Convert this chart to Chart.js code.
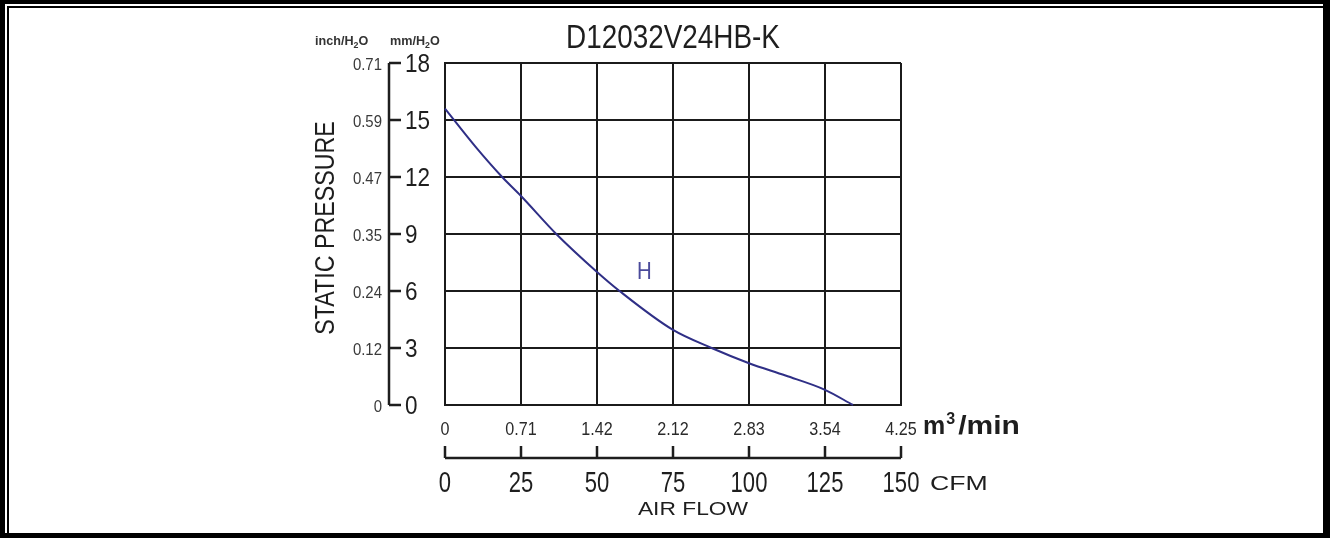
<!DOCTYPE html>
<html>
<head>
<meta charset="utf-8">
<script src="https://cdn.jsdelivr.net/npm/chart.js@4/dist/chart.umd.min.js"></script>
<style>
    html, body { margin: 0; padding: 0; background: #fff; }
    #page { position: relative; width: 1330px; height: 538px; overflow: hidden; background: #000; }
    .layer { position: absolute; }
    #gap { left: 5px; top: 4px; right: 7px; bottom: 5px; background: #fff; }
    #line { left: 7px; top: 6px; right: 7px; bottom: 5px; background: #000; }
    #inner { left: 9px; top: 8px; right: 7px; bottom: 5px; background: #fff; }
    #pqChart { position: absolute; left: 0; top: 0; }
</style>
</head>
<body>
<div id="page">
    <div class="layer" id="gap"></div>
    <div class="layer" id="line"></div>
    <div class="layer" id="inner"></div>
    <canvas id="pqChart" width="1330" height="538"></canvas>
</div>
<script>
// P-Q curve of the fan
const chartTitle = 'D12032V24HB-K';
const flowCfm = [0, 10, 18.8, 25, 36.6, 50, 57.4, 75, 87.7, 100, 112, 125, 134.2];
const pressureMm = [15.6, 13.6, 12.0, 11.0, 9.0, 7.0, 6.0, 3.95, 3.0, 2.2, 1.55, 0.8, 0];

const cfmTicks = [0, 25, 50, 75, 100, 125, 150];
const m3Ticks = ['0', '0.71', '1.42', '2.12', '2.83', '3.54', '4.25'];
const mmTicks = [0, 3, 6, 9, 12, 15, 18];
const inchTicks = ['0', '0.12', '0.24', '0.35', '0.47', '0.59', '0.71'];

const curveLabel = { text: 'H', cfm: 65.6, mm: 7.1 };

const FONT = '"Liberation Sans", Arial, sans-serif';
const INK = '#1e1e1e';

function drawText(ctx, text, x, y, size, opts = {}) {
    ctx.save();
    ctx.translate(x, y);
    if (opts.rotate) ctx.rotate(opts.rotate);
    ctx.scale(opts.sx || 1, 1);
    ctx.font = `${opts.bold ? 'bold ' : ''}${size}px ${FONT}`;
    ctx.fillStyle = opts.color || INK;
    ctx.textAlign = opts.align || 'left';
    ctx.textBaseline = 'alphabetic';
    ctx.fillText(text, 0, 0);
    const w = ctx.measureText(text).width * (opts.sx || 1);
    ctx.restore();
    return w;
}

// "H2O" style unit with a real subscript digit
function drawUnit(ctx, prefix, x, y, size) {
    const o = { bold: true, sx: 0.97, color: '#333' };
    let cx = x;
    cx += drawText(ctx, prefix, cx, y, size, o);
    cx += drawText(ctx, '2', cx, y + 3, size * 0.7, o);
    drawText(ctx, 'O', cx, y, size, o);
}

const axesPlugin = {
    id: 'pqAxes',
    afterDraw(chart) {
        const ctx = chart.ctx;
        const xs = chart.scales.x;
        const ys = chart.scales.y;
        const area = chart.chartArea;

        ctx.save();
        ctx.strokeStyle = INK;
        ctx.lineWidth = 2.5;

        // left pressure axis
        const axisX = 389;
        ctx.beginPath();
        ctx.moveTo(axisX, ys.getPixelForValue(18));
        ctx.lineTo(axisX, ys.getPixelForValue(0));
        mmTicks.forEach(v => {
            const py = ys.getPixelForValue(v);
            ctx.moveTo(axisX, py);
            ctx.lineTo(axisX + 12, py);
        });
        ctx.stroke();

        // lower CFM axis
        const cfmY = 458;
        ctx.beginPath();
        ctx.moveTo(xs.getPixelForValue(0), cfmY);
        ctx.lineTo(xs.getPixelForValue(150), cfmY);
        cfmTicks.forEach(v => {
            const px = xs.getPixelForValue(v);
            ctx.moveTo(px, cfmY);
            ctx.lineTo(px, cfmY - 12);
        });
        ctx.stroke();
        ctx.restore();

        mmTicks.forEach(v => {
            drawText(ctx, String(v), 405, ys.getPixelForValue(v) + 9, 25, { sx: 0.9 });
        });
        inchTicks.forEach((t, i) => {
            drawText(ctx, t, 382, ys.getPixelForValue(mmTicks[i]) + 7, 17, { sx: 0.88, align: 'right', color: '#3a3a3a' });
        });

        m3Ticks.forEach((t, i) => {
            drawText(ctx, t, xs.getPixelForValue(cfmTicks[i]), 435, 19, { sx: 0.85, align: 'center', color: '#2a2a2a' });
        });
        cfmTicks.forEach(v => {
            drawText(ctx, String(v), xs.getPixelForValue(v), 492, 29, { sx: 0.76, align: 'center' });
        });

        // units and axis titles
        let ux = 923;
        ux += drawText(ctx, 'm', ux, 434, 25, { bold: true });
        ux += drawText(ctx, '3', ux + 1, 424, 16, { bold: true });
        drawText(ctx, '/min', ux + 4, 434, 25, { bold: true, sx: 1.2 });
        drawText(ctx, 'CFM', 930, 490, 21, { sx: 1.27 });
        drawText(ctx, 'AIR FLOW', 693, 515, 19, { sx: 1.2, align: 'center' });

        drawUnit(ctx, 'inch/H', 315, 45, 13);
        drawUnit(ctx, 'mm/H', 390, 45, 13);

        drawText(ctx, 'STATIC PRESSURE', 334, 228, 28, { rotate: -Math.PI / 2, sx: 0.83, align: 'center' });
        drawText(ctx, chartTitle, (area.left + area.right) / 2, 48, 34, { sx: 0.82, align: 'center' });

        drawText(ctx, curveLabel.text, xs.getPixelForValue(curveLabel.cfm), ys.getPixelForValue(curveLabel.mm) + 9,
            24, { sx: 0.85, align: 'center', color: '#4b4b9b' });
    }
};

document.addEventListener('DOMContentLoaded', function() {
    const ctx = document.getElementById('pqChart').getContext('2d');
    new Chart(ctx, {
        type: 'scatter',
        data: {
            datasets: [{
                data: flowCfm.map((f, i) => ({ x: f, y: pressureMm[i] })),
                showLine: true,
                borderColor: '#2f2f86',
                borderWidth: 2,
                pointRadius: 0,
                cubicInterpolationMode: 'monotone',
                clip: false
            }]
        },
        options: {
            responsive: false,
            animation: false,
            devicePixelRatio: 1,
            layout: { padding: { left: 445, right: 429, top: 63, bottom: 133 } },
            plugins: {
                legend: { display: false },
                tooltip: { enabled: false },
                title: { display: false }
            },
            scales: {
                x: {
                    type: 'linear',
                    min: 0,
                    max: 150,
                    ticks: { stepSize: 25, display: false },
                    grid: { color: '#1b1b1b', lineWidth: 2, drawTicks: false },
                    border: { color: '#1b1b1b', width: 2 },
                    afterFit: s => { s.height = 0; }
                },
                y: {
                    min: 0,
                    max: 18,
                    ticks: { stepSize: 3, display: false },
                    grid: { color: '#1b1b1b', lineWidth: 2, drawTicks: false },
                    border: { color: '#1b1b1b', width: 2 },
                    afterFit: s => { s.width = 0; }
                }
            }
        },
        plugins: [axesPlugin]
    });
});
</script>
</body>
</html>
